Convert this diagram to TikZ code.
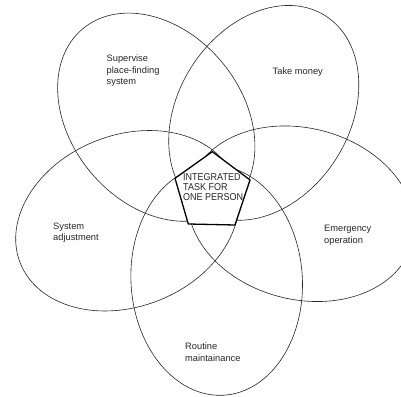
\documentclass[tikz,border=0pt]{standalone}
\usepackage{fontspec}
\setmainfont{Liberation Sans}
\usetikzlibrary{calc}
\begin{document}
\begin{tikzpicture}[x=1pt,y=1pt,
  petal/.style={draw=black!85, line width=0.6pt},
  pent/.style={draw=black, line width=1.3pt, line join=miter, fill=white},
  lbl/.style={anchor=north west, inner sep=0pt, align=left, text=black!85,
    font=\fontsize{9.3}{11.6}\selectfont},
  tasktext/.style={anchor=north west, inner sep=0pt, align=left, text=black!85,
    font=\fontsize{10}{10}\selectfont, xscale=0.9}]
\useasboundingbox (0,0) rectangle (401,396);
\clip (0,0) rectangle (401,396);
\fill[white] (0,0) rectangle (401,396);
\coordinate (C) at (213,207);
\foreach \k in {0,...,4} {
  \coordinate (c\k) at ($(C)+(200.3+72*\k:91.5pt)$);
  \draw[petal, rotate around={21.6+72*\k:(c\k)}] (c\k) ellipse [x radius=115pt, y radius=85.7pt];
}
\coordinate (pT) at (212.3,244.3);
\coordinate (pR) at (250,216);
\coordinate (pBR) at (235,171);
\coordinate (pBL) at (188.3,172);
\coordinate (pL) at (175,217.7);
\draw[pent] (pT) -- (pR) -- (pBR) -- (pBL) -- (pL) -- cycle;
\node[tasktext] (task) at (183,222.6) {INTEGRATED\\TASK FOR\\ONE PERSON};
\node[lbl] (sup) at (106.5,341.4) {Supervise\\place-finding\\system};
\node[lbl] (take) at (272.5,328.4) {Take money};
\node[lbl] (sys) at (53,173.4) {System\\adjustment};
\node[lbl] (emer) at (324,171.1) {Emergency\\operation};
\node[lbl] (rout) at (185,53.4) {Routine\\maintainance};
\end{tikzpicture}
\end{document}
